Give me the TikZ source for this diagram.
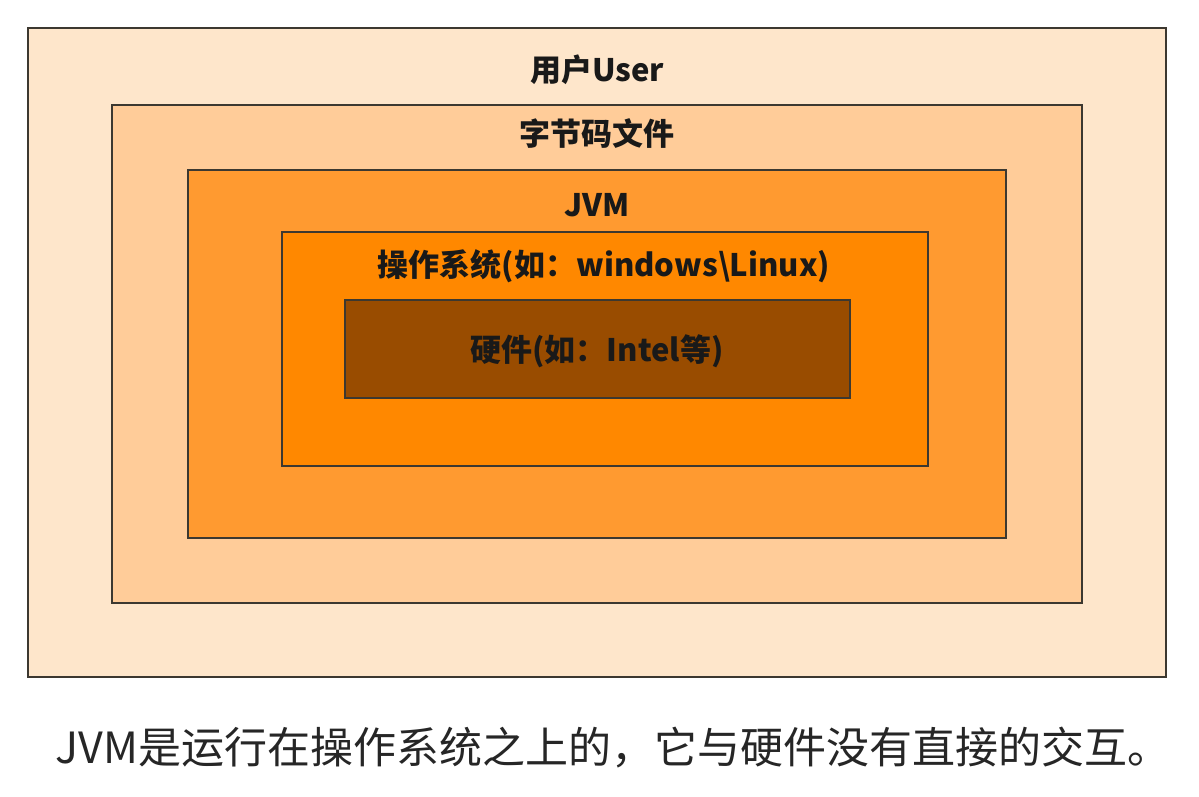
\documentclass[tikz,border=0pt]{standalone}
\usepackage{fontspec}
\setmainfont{Noto Sans CJK SC}
\newfontfamily\cjk{Noto Sans CJK SC}
\definecolor{cA}{HTML}{FEE6CB}
\definecolor{cB}{HTML}{FFCC99}
\definecolor{cC}{HTML}{FF9A30}
\definecolor{cD}{HTML}{FF8800}
\definecolor{cE}{HTML}{994C00}
\definecolor{edge}{HTML}{3C3830}
\tikzset{
  layer/.style={draw=edge, line width=2.8pt},
  lbl/.style={font=\cjk\bfseries\fontsize{31}{34}\selectfont, text=black!90, inner sep=0pt},
  captiontext/.style={font=\cjk\fontsize{43}{46}\selectfont, text=black!85, inner sep=0pt}
}
\begin{document}
\begin{tikzpicture}[x=1pt,y=-1pt]
\useasboundingbox[fill=white] (0,0) rectangle (1199,796);
\draw[layer, fill=cA] (28,28) rectangle (1166,677);
\draw[layer, fill=cB] (112,105) rectangle (1082,603);
\draw[layer, fill=cC] (188,170) rectangle (1006,538);
\draw[layer, fill=cD] (282,232) rectangle (928,466);
\draw[layer, fill=cE] (345,300) rectangle (850,398);
\node[lbl] (user) at (597,70) {用户User};
\node[lbl] (bytecode) at (597,133) {字节码文件};
\node[lbl] (jvm) at (597,205) {JVM};
\node[lbl] (os) at (604,266) {操作系统(如：windows\textbackslash Linux)};
\node[lbl] (hw) at (597,351) {硬件(如：Intel等)};
\node[captiontext] (caption) at (613,748) {JVM是运行在操作系统之上的，它与硬件没有直接的交互。};
\end{tikzpicture}
\end{document}
